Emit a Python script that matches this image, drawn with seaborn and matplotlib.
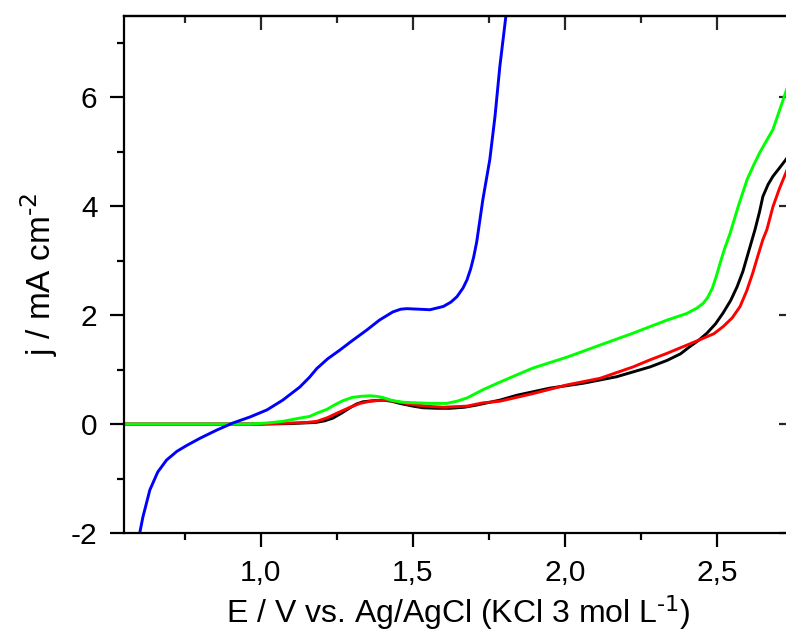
import numpy as np
import pandas as pd
import seaborn as sns
from matplotlib import pyplot as plt
from matplotlib.ticker import MultipleLocator, FuncFormatter

# potential (V) and current density (mA cm-2)
black_e = [0.55, 0.80, 1.00, 1.10, 1.18, 1.21, 1.237, 1.265, 1.293, 1.315, 1.336, 1.37, 1.40,
           1.43, 1.457, 1.50, 1.533, 1.58, 1.622, 1.67, 1.71, 1.786, 1.842, 1.95, 2.06,
           2.17, 2.28, 2.336, 2.38, 2.41, 2.44, 2.467, 2.495, 2.52, 2.545, 2.566, 2.585,
           2.599, 2.612, 2.625, 2.64, 2.651, 2.668, 2.684, 2.705, 2.727, 2.75]
black_j = [0.0, 0.0, 0.0, 0.01, 0.03, 0.06, 0.11, 0.20, 0.30, 0.37, 0.41, 0.43, 0.44,
           0.42, 0.38, 0.33, 0.30, 0.29, 0.29, 0.31, 0.35, 0.44, 0.53, 0.66, 0.75,
           0.87, 1.05, 1.17, 1.29, 1.42, 1.54, 1.67, 1.84, 2.04, 2.27, 2.52, 2.80,
           3.07, 3.32, 3.57, 3.90, 4.18, 4.40, 4.55, 4.70, 4.86, 5.05]

red_e = [0.55, 0.80, 1.00, 1.10, 1.15, 1.184, 1.22, 1.25, 1.29, 1.326, 1.36, 1.40, 1.43,
         1.457, 1.51, 1.566, 1.60, 1.678, 1.73, 1.786, 1.895, 2.007, 2.115, 2.224, 2.28,
         2.336, 2.444, 2.49, 2.52, 2.55, 2.576, 2.598, 2.618, 2.635, 2.651, 2.664, 2.684,
         2.705, 2.727, 2.75]
red_j = [0.0, 0.0, 0.0, 0.02, 0.03, 0.05, 0.12, 0.20, 0.30, 0.38, 0.42, 0.44, 0.43,
         0.40, 0.35, 0.32, 0.31, 0.33, 0.39, 0.42, 0.56, 0.72, 0.84, 1.05, 1.18,
         1.30, 1.55, 1.66, 1.79, 1.95, 2.16, 2.45, 2.78, 3.10, 3.39, 3.57, 3.99,
         4.32, 4.62, 4.95]

green_e = [0.55, 0.80, 0.96, 1.02, 1.072, 1.128, 1.16, 1.184, 1.217, 1.245, 1.27, 1.30,
           1.33, 1.358, 1.38, 1.40, 1.434, 1.47, 1.513, 1.56, 1.61, 1.645, 1.678, 1.73,
           1.786, 1.84, 1.895, 2.007, 2.115, 2.224, 2.336, 2.40, 2.434, 2.455, 2.47,
           2.485, 2.497, 2.51, 2.525, 2.543, 2.57, 2.599, 2.62, 2.641, 2.684, 2.727, 2.75]
green_j = [0.0, 0.0, 0.0, 0.02, 0.05, 0.11, 0.14, 0.20, 0.27, 0.36, 0.43, 0.49,
           0.51, 0.52, 0.51, 0.49, 0.43, 0.40, 0.39, 0.38, 0.38, 0.42, 0.48, 0.63,
           0.77, 0.90, 1.03, 1.23, 1.45, 1.67, 1.91, 2.03, 2.13, 2.22, 2.33,
           2.50, 2.70, 2.95, 3.22, 3.50, 4.00, 4.49, 4.75, 4.99, 5.41, 6.11, 6.50]

blue_e = [0.60, 0.612, 0.635, 0.661, 0.69, 0.724, 0.757, 0.80, 0.855, 0.908, 0.964, 1.02,
          1.072, 1.128, 1.16, 1.184, 1.22, 1.26, 1.30, 1.349, 1.39, 1.434, 1.46, 1.48,
          1.52, 1.556, 1.60, 1.625, 1.645, 1.665, 1.678, 1.69, 1.70, 1.71, 1.73, 1.753,
          1.77, 1.786, 1.806, 1.815]
blue_j = [-2.05, -1.71, -1.21, -0.88, -0.66, -0.50, -0.39, -0.26, -0.11, 0.02, 0.13, 0.26,
          0.44, 0.68, 0.86, 1.02, 1.20, 1.36, 1.53, 1.73, 1.91, 2.06, 2.11, 2.12,
          2.11, 2.10, 2.16, 2.24, 2.34, 2.50, 2.65, 2.85, 3.07, 3.35, 4.12, 4.86,
          5.65, 6.57, 7.50, 7.90]

curves = ["black", "red", "green", "blue"]
colors = {"black": "#000000", "red": "#ff0000", "green": "#00ff00", "blue": "#0000ff"}

frames = []
for name, e, j in [("black", black_e, black_j), ("red", red_e, red_j),
                   ("green", green_e, green_j), ("blue", blue_e, blue_j)]:
    frames.append(pd.DataFrame({"E": e, "j": j, "curve": name}))
df = pd.concat(frames, ignore_index=True)

sns.set_style("ticks")
plt.rcParams["font.family"] = ["Liberation Sans", "DejaVu Sans"]
plt.rcParams["mathtext.default"] = "regular"
plt.rcParams["axes.labelcolor"] = "black"
plt.rcParams["text.color"] = "black"

fig = plt.figure(figsize=(7.86, 6.36), dpi=100)
ax = fig.add_axes([124 / 786, 1 - 533 / 636, (793 - 124) / 786, (533 - 15.7) / 636])

sns.lineplot(data=df, x="E", y="j", hue="curve", hue_order=curves, palette=colors,
             sort=False, estimator=None, legend=False, linewidth=2.1, ax=ax)

ax.set_xlim(0.55, 2.75)
ax.set_ylim(-2, 7.5)
ax.xaxis.set_major_locator(MultipleLocator(0.5))
ax.xaxis.set_minor_locator(MultipleLocator(0.25))
ax.yaxis.set_major_locator(MultipleLocator(2))
ax.yaxis.set_minor_locator(MultipleLocator(1))
ax.xaxis.set_major_formatter(FuncFormatter(lambda v, p: f"{v:.1f}".replace(".", ",")))
ax.yaxis.set_major_formatter(FuncFormatter(lambda v, p: f"{v:.0f}"))

for s in ax.spines.values():
    s.set_linewidth(1.6)
    s.set_color("black")
    s.set_visible(True)

ax.tick_params(which="both", direction="out", width=1.6, colors="black",
               labelsize=21.5, top=False, right=False)
ax.tick_params(which="major", length=10, pad=9)
ax.tick_params(which="minor", length=5)

# inward ticks on the top and right spines
sec_x = ax.secondary_xaxis("top")
sec_x.xaxis.set_major_locator(MultipleLocator(0.5))
sec_x.xaxis.set_minor_locator(MultipleLocator(0.25))
sec_x.tick_params(which="both", direction="in", width=1.6, labeltop=False)
sec_x.tick_params(which="major", length=10)
sec_x.tick_params(which="minor", length=5)
sec_x.spines["top"].set_linewidth(1.6)
sec_y = ax.secondary_yaxis("right")
sec_y.yaxis.set_major_locator(MultipleLocator(2))
sec_y.yaxis.set_minor_locator(MultipleLocator(1))
sec_y.tick_params(which="both", direction="in", width=1.6, labelright=False)
sec_y.tick_params(which="major", length=10)
sec_y.tick_params(which="minor", length=5)
sec_y.spines["right"].set_linewidth(1.6)

ax.set_xlabel(r"E / V vs. Ag/AgCl (KCl 3 mol L$^{\text{-1}}$)", fontsize=23, labelpad=4,
              color="black")
ax.set_ylabel(r"j / mA cm$^{\text{-2}}$", fontsize=24, labelpad=8, color="black")

fig.savefig("out.png", dpi=100)
